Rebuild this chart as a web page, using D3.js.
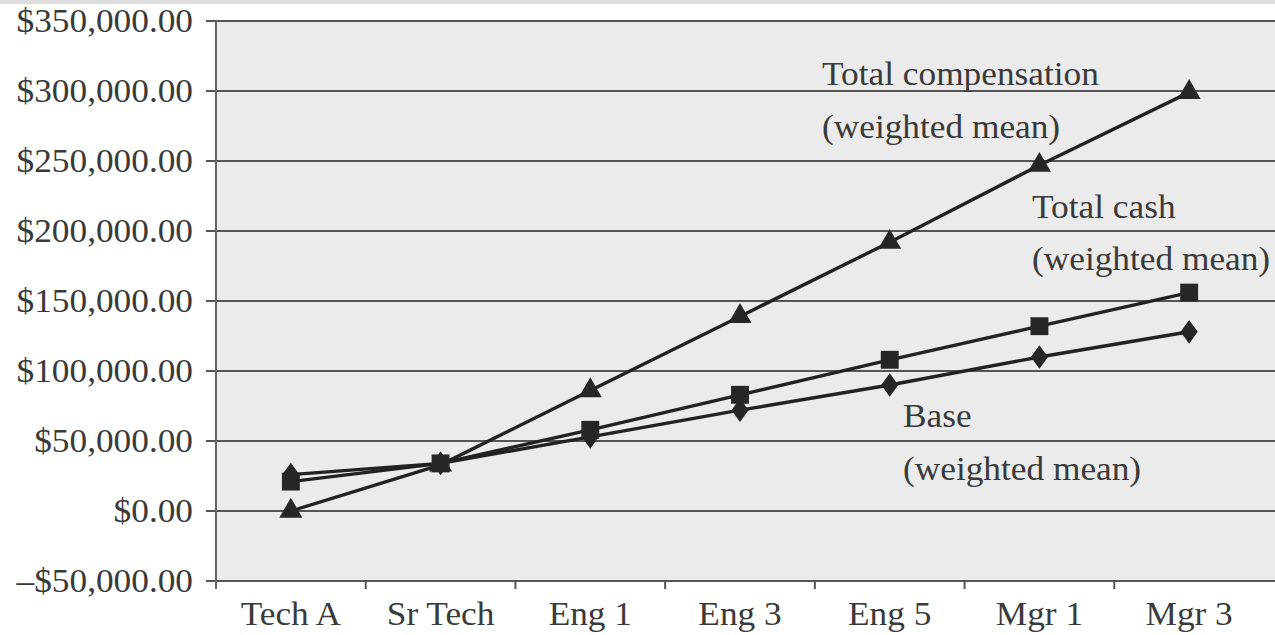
<!DOCTYPE html>
<html>
<head>
<meta charset="utf-8">
<script src="https://cdn.jsdelivr.net/npm/d3@7"></script>
<style>
  html, body { margin: 0; padding: 0; background: #fff; }
  svg { display: block; }
  text { font-family: "Liberation Serif", "DejaVu Serif", serif; fill: #3a3a3a; }
</style>
</head>
<body>
<svg id="chart" width="1275" height="635"></svg>
<script>
// Job levels along the horizontal axis
const categories = ["Tech A", "Sr Tech", "Eng 1", "Eng 3", "Eng 5", "Mgr 1", "Mgr 3"];

// Weighted means per level (USD)
const baseValues = [26000, 34000, 53000, 72000, 90000, 110000, 128000];
const totalCashValues = [21000, 34000, 58000, 83000, 108000, 132000, 156000];
const totalCompValues = [0, 33000, 86000, 139000, 192000, 247000, 299000];

// Value-axis ticks
const yTicks = [-50000, 0, 50000, 100000, 150000, 200000, 250000, 300000, 350000];

// Series labels (two lines each)
const baseLabel = ["Base", "(weighted mean)"];
const cashLabel = ["Total cash", "(weighted mean)"];
const compLabel = ["Total compensation", "(weighted mean)"];

const svg = d3.select("#chart");
const W = 1275, H = 635;
const plotLeft = 216, plotRight = 1264, plotTop = 21, plotBottom = 581;
const fs = 33, sx = 1.07; // text size and horizontal stretch

// thin grey strip along the top edge
svg.append("rect").attr("x", 0).attr("y", 0).attr("width", W).attr("height", 4).attr("fill", "#dedddd");

const x = d3.scaleBand().domain(categories).range([plotLeft, plotRight]).padding(0);
const y = d3.scaleLinear().domain([-50000, 350000]).range([plotBottom, plotTop]);

// plot background
svg.append("rect")
  .attr("x", plotLeft).attr("y", plotTop)
  .attr("width", W - plotLeft).attr("height", plotBottom - plotTop)
  .attr("fill", "#ebebeb");

// horizontal gridlines
svg.append("g").selectAll("line").data(yTicks).join("line")
  .attr("x1", plotLeft - 10).attr("x2", W)
  .attr("y1", d => y(d)).attr("y2", d => y(d))
  .attr("stroke", "#555").attr("stroke-width", 2);

// vertical axis line
svg.append("line")
  .attr("x1", plotLeft).attr("x2", plotLeft)
  .attr("y1", plotTop).attr("y2", plotBottom + 8)
  .attr("stroke", "#666").attr("stroke-width", 2);

// category separators on the x axis
const bounds = categories.slice(1).map(c => x(c));
svg.append("g").selectAll("line").data(bounds).join("line")
  .attr("x1", d => d).attr("x2", d => d)
  .attr("y1", plotBottom).attr("y2", plotBottom + 8)
  .attr("stroke", "#555").attr("stroke-width", 2);

// y tick labels
const fmt = v => (v < 0 ? "\u2013" : "") + "$" + d3.format(",.2f")(Math.abs(v));
svg.append("g").selectAll("text").data(yTicks).join("text")
  .attr("transform", d => `translate(193,${y(d) + 11}) scale(${sx},1)`)
  .attr("text-anchor", "end")
  .attr("font-size", fs)
  .text(fmt);

// x category labels
svg.append("g").selectAll("text").data(categories).join("text")
  .attr("transform", d => `translate(${x(d) + x.bandwidth() / 2},625) scale(${sx},1)`)
  .attr("text-anchor", "middle")
  .attr("font-size", fs)
  .text(d => d);

const cx = c => x(c) + x.bandwidth() / 2;
const line = d3.line().x((d, i) => cx(categories[i])).y(d => y(d));

// a wider diamond than d3's built-in one
const wideDiamond = {
  draw(ctx, size) {
    const h = Math.sqrt(size) * 0.8, w = h * 0.72;
    ctx.moveTo(0, -h);
    ctx.lineTo(w, 0);
    ctx.lineTo(0, h);
    ctx.lineTo(-w, 0);
    ctx.closePath();
  }
};

const series = [
  { values: baseValues, symbol: wideDiamond, size: 220 },
  { values: totalCompValues, symbol: d3.symbolTriangle, size: 230 },
  { values: totalCashValues, symbol: d3.symbolSquare, size: 320 }
];

series.forEach(s => {
  svg.append("path")
    .attr("d", line(s.values))
    .attr("fill", "none")
    .attr("stroke", "#222")
    .attr("stroke-width", 3.4);
});
series.forEach(s => {
  svg.append("g").selectAll("path").data(s.values).join("path")
    .attr("transform", (d, i) => `translate(${cx(categories[i])},${y(d)})`)
    .attr("d", d3.symbol().type(s.symbol).size(s.size))
    .attr("fill", "#262626");
});

// series annotations
function annotate(lines, xPos, baselines) {
  lines.forEach((t, i) => {
    svg.append("text")
      .attr("transform", `translate(${xPos},${baselines[i]}) scale(${sx},1)`)
      .attr("font-size", fs)
      .text(t);
  });
}
annotate(compLabel, 822, [85, 138]);
annotate(cashLabel, 1032, [218, 270]);
annotate(baseLabel, 903, [427, 480]);
</script>
</body>
</html>
